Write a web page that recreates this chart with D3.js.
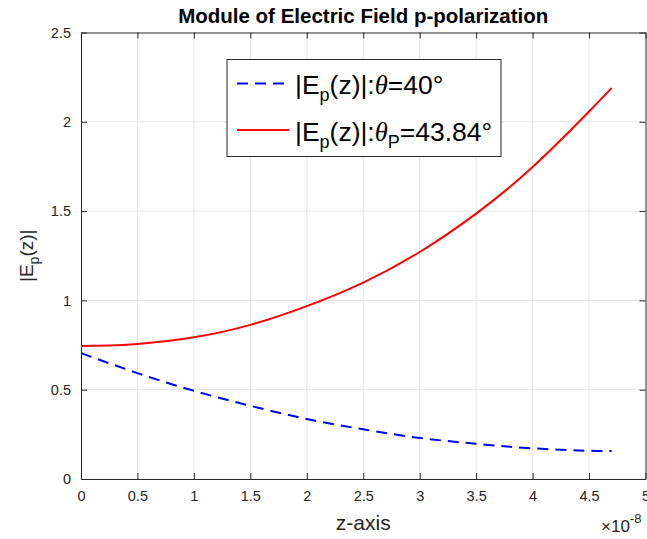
<!DOCTYPE html>
<html><head><meta charset="utf-8">
<script src="https://cdn.jsdelivr.net/npm/d3@7"></script>
<style>
html,body{margin:0;padding:0;background:#fff;}
svg{display:block;font-family:"Liberation Sans",Arial,Helvetica,sans-serif;}
</style></head>
<body>
<svg id="chart" width="647" height="539"></svg>
<script>
// ---- data (z in units of 1e-8) ----
const zRed  = [0, 0.25, 0.5, 1, 1.5, 2, 2.5, 3, 3.5, 4, 4.5, 4.7];
const eRed  = [0.745, 0.747, 0.756, 0.794, 0.863, 0.968, 1.100, 1.271, 1.486, 1.747, 2.058, 2.189];
const zBlue = [0, 0.5, 1, 1.5, 2, 2.5, 3, 3.5, 4, 4.5, 4.7];
const eBlue = [0.705, 0.593, 0.494, 0.410, 0.336, 0.278, 0.230, 0.197, 0.172, 0.158, 0.157];
const xTicks = [0, 0.5, 1, 1.5, 2, 2.5, 3, 3.5, 4, 4.5, 5];
const yTicks = [0, 0.5, 1, 1.5, 2, 2.5];
const titleText = "Module of Electric Field p-polarization";
const xLabelText = "z-axis";

const svg = d3.select("#chart");
const L = 81, R = 645.5, T = 32.5, B = 479;
const x = d3.scaleLinear().domain([0, 5]).range([L, R]);
const y = d3.scaleLinear().domain([0, 2.5]).range([B, T]);
const axisCol = "#262626", gridCol = "#e6e6e6";

// grid
svg.append("g").selectAll("line").data(xTicks.slice(1, -1)).join("line")
  .attr("x1", d => x(d)).attr("x2", d => x(d)).attr("y1", T).attr("y2", B)
  .attr("stroke", gridCol).attr("stroke-width", 1);
svg.append("g").selectAll("line").data(yTicks.slice(1, -1)).join("line")
  .attr("y1", d => y(d)).attr("y2", d => y(d)).attr("x1", L).attr("x2", R)
  .attr("stroke", gridCol).attr("stroke-width", 1);

// axes
const tl = 6;
const fmt = d => String(d);
const xAxisB = d3.axisBottom(x).tickValues(xTicks).tickFormat(fmt).tickSizeInner(-tl).tickSizeOuter(0).tickPadding(12);
const xAxisT = d3.axisTop(x).tickValues(xTicks).tickFormat("").tickSizeInner(-tl).tickSizeOuter(0);
const yAxisL = d3.axisLeft(y).tickValues(yTicks).tickFormat(fmt).tickSizeInner(-tl).tickSizeOuter(0).tickPadding(10);
const yAxisR = d3.axisRight(y).tickValues(yTicks).tickFormat("").tickSizeInner(-tl).tickSizeOuter(0);
function style(g){
  g.selectAll("path").attr("stroke", axisCol).attr("stroke-width", 1);
  g.selectAll("line").attr("stroke", axisCol).attr("stroke-width", 1);
  g.selectAll("text").attr("fill", axisCol).attr("font-size", "14.5px")
    .attr("font-family", '"Liberation Sans",Arial,sans-serif');
}
svg.append("g").attr("transform", `translate(0,${B})`).call(xAxisB).call(style);
svg.append("g").attr("transform", `translate(0,${T})`).call(xAxisT).call(style);
svg.append("g").attr("transform", `translate(${L},0)`).call(yAxisL).call(style);
svg.append("g").attr("transform", `translate(${R},0)`).call(yAxisR).call(style);

// curves
const line = d3.line().x(d => x(d[0])).y(d => y(d[1])).curve(d3.curveNatural);
svg.append("path").datum(zBlue.map((z, i) => [z, eBlue[i]]))
  .attr("d", line).attr("fill", "none").attr("stroke", "#0000ff")
  .attr("stroke-width", 2).attr("stroke-dasharray", "11,7");
svg.append("path").datum(zRed.map((z, i) => [z, eRed[i]]))
  .attr("d", line).attr("fill", "none").attr("stroke", "#ff0000")
  .attr("stroke-width", 2);

// title
svg.append("text").attr("x", (L + R) / 2).attr("y", 23).attr("text-anchor", "middle")
  .attr("font-size", "20.5px").attr("font-weight", "bold").attr("fill", "#000")
  .text(titleText);

// x label
svg.append("text").attr("x", (L + R) / 2).attr("y", 530).attr("text-anchor", "middle")
  .attr("font-size", "21px").attr("fill", axisCol).text(xLabelText);
// exponent
const ex = svg.append("text").attr("x", 601).attr("y", 532).attr("font-size", "17px").attr("fill", axisCol);
ex.append("tspan").text("×10");
ex.append("tspan").attr("dy", -9).attr("font-size", "13px").text("-8");

// y label
const yl = svg.append("text").attr("transform", `translate(33,${(T + B) / 2}) rotate(-90)`)
  .attr("text-anchor", "middle").attr("font-size", "19px").attr("fill", axisCol);
yl.append("tspan").text("|E");
yl.append("tspan").attr("font-size", "14px").attr("dy", 6).text("p");
yl.append("tspan").attr("dy", -6).text("(z)|");

// legend
const lg = svg.append("g");
lg.append("rect").attr("x", 227).attr("y", 59.5).attr("width", 274).attr("height", 97)
  .attr("fill", "#fff").attr("stroke", axisCol).attr("stroke-width", 1);
const legItems = [
  {color: "#0000ff", dash: "11,7", yy: 83.5, sub: null, val: "=40°"},
  {color: "#ff0000", dash: null, yy: 130, sub: "P", val: "=43.84°"}
];
legItems.forEach(it => {
  lg.append("line").attr("x1", 237).attr("x2", 289).attr("y1", it.yy).attr("y2", it.yy)
    .attr("stroke", it.color).attr("stroke-width", 2).attr("stroke-dasharray", it.dash);
  const t = lg.append("text").attr("x", 295).attr("y", it.yy + 10.5).attr("font-size", "26.5px").attr("fill", "#000");
  t.append("tspan").text("|E");
  t.append("tspan").attr("font-size", "18px").attr("dy", 7).text("p");
  t.append("tspan").attr("dy", -7).text("(z)|:");
  t.append("tspan").attr("font-family", '"Liberation Serif","Times New Roman",serif').attr("font-style", "italic").text("θ");
  if (it.sub) {
    t.append("tspan").attr("font-size", "18px").attr("dy", 7).text(it.sub);
    t.append("tspan").attr("dy", -7).text(it.val);
  } else {
    t.append("tspan").text(it.val);
  }
});
</script>
</body></html>
